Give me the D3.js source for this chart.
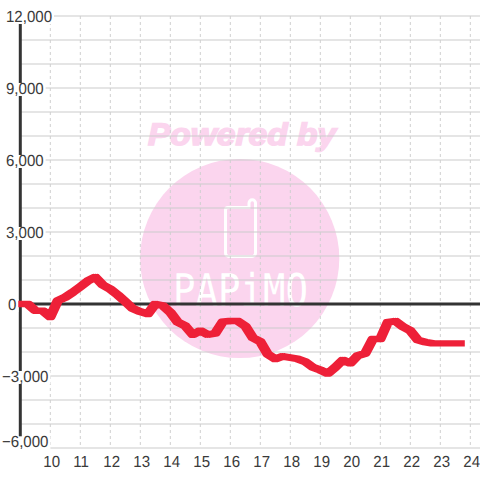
<!DOCTYPE html>
<html><head><meta charset="utf-8">
<script src="https://cdn.jsdelivr.net/npm/d3@7"></script>
<style>html,body{margin:0;padding:0;background:#fff}svg{display:block}text{font-family:"Liberation Sans",Arial,sans-serif;text-rendering:geometricPrecision}</style>
</head><body><svg id="c" width="480" height="480"></svg>
<script>
const hours=[10,11,12,13,14,15,16,17,18,19,20,21,22,23,24];
const yTicks=[12000,11000,10000,9000,8000,7000,6000,5000,4000,3000,2000,1000,0,-1000,-2000,-3000,-4000,-5000,-6000];
const yLabels=[12000,9000,6000,3000,0,-3000,-6000];
const startHour=9;
const stepHour=0.25;
const values=[0,0,-280,-280,-540,140,280,490,720,960,1120,790,620,375,95,-190,-320,-415,0,-70,-345,-760,-915,-1280,-1110,-1280,-1220,-735,-710,-710,-920,-1405,-1570,-2095,-2290,-2180,-2235,-2290,-2405,-2635,-2750,-2900,-2635,-2335,-2470,-2150,-2055,-1460,-1460,-760,-710,-945,-1110,-1500,-1585,-1640,-1640,-1640,-1640,-1640];

const svg=d3.select("#c");
const x=d3.scaleLinear().domain([9,24]).range([20.3,470.3]);
const y=d3.scaleLinear().domain([-6000,12000]).range([448,16]);

// watermark
svg.append("circle").attr("cx",239.7).attr("cy",258.5).attr("r",99.6).attr("fill","#fbd5ee");
svg.append("text").attr("x",148).attr("y",145).attr("textLength",188).attr("lengthAdjust","spacingAndGlyphs")
  .attr("font-size",31).attr("font-weight","bold").attr("font-style","italic").attr("fill","#fbd5ee")
  .attr("stroke","#fbd5ee").attr("stroke-width",1.6).text("Powered by");
svg.append("path").attr("d","M228 207.5H249V203A3.2 3.2 0 0 1 255.5 203V253A3.5 3.5 0 0 1 252 256.5H229A3.5 3.5 0 0 1 225.5 253V210A2.5 2.5 0 0 1 228 207.5Z")
  .attr("fill","none").attr("stroke","#fff").attr("stroke-width",3);
svg.append("text").attr("x",173).attr("y",306).attr("textLength",135).attr("lengthAdjust","spacingAndGlyphs")
  .attr("font-size",45).attr("fill","#fff").style("font-family","'DejaVu Sans Mono'").text("PAPiMO");

// grid
svg.append("g").selectAll("line").data(yTicks).join("line")
  .attr("x1",20).attr("x2",480).attr("y1",d=>y(d)).attr("y2",d=>y(d))
  .attr("stroke","#cbcbcb").attr("stroke-width",1.1);
svg.append("g").selectAll("line").data(hours).join("line")
  .attr("x1",d=>x(d)).attr("x2",d=>x(d)).attr("y1",16).attr("y2",448)
  .attr("stroke","#cfcfcf").attr("stroke-width",1).attr("stroke-dasharray","3 3");

// axes
svg.append("line").attr("x1",x(9)).attr("x2",x(9)).attr("y1",16).attr("y2",448).attr("stroke","#333").attr("stroke-width",3);
svg.append("line").attr("x1",20).attr("x2",480).attr("y1",y(0)).attr("y2",y(0)).attr("stroke","#333").attr("stroke-width",3);

// y labels
const fmt=d3.format(",");
function narrow(sel){sel.each(function(){this.setAttribute("textLength",this.getComputedTextLength()*0.94);this.setAttribute("lengthAdjust","spacingAndGlyphs");});}
const lab=svg.append("g").selectAll("g").data(yLabels).join("g")
  .attr("transform",d=>`translate(0,${y(d)+(d===-6000?-6.7:0)})`);
lab.append("text").attr("y",6).attr("font-size",16).attr("fill","#3a3a3a").attr("x",d=>d===0?8:(d<0?2:6)).text(d=>fmt(d)).call(narrow);
lab.each(function(){const t=d3.select(this).select("text"),w=t.node().getAttribute("textLength");
  d3.select(this).insert("rect","text").attr("x",+t.attr("x")-1).attr("y",-5).attr("width",+w+3).attr("height",13).attr("fill","#fff");});

// x labels
svg.append("g").selectAll("text").data(hours).join("text")
  .attr("x",d=>x(d)-7).attr("y",466.5).attr("font-size",16).attr("fill","#3a3a3a").text(d=>d).call(narrow);

// series: a broad-nib pen, wider along x than along y
const pen=dx=>d3.line().x((d,i)=>x(startHour+i*stepHour)+dx).y(d=>y(d))(values);
svg.append("path").attr("d",pen(-2)+pen(0)+pen(2)).attr("fill","none").attr("stroke","#ee2038").attr("stroke-width",6.4)
  .attr("stroke-linecap","butt").attr("stroke-linejoin","round");
</script></body></html>
